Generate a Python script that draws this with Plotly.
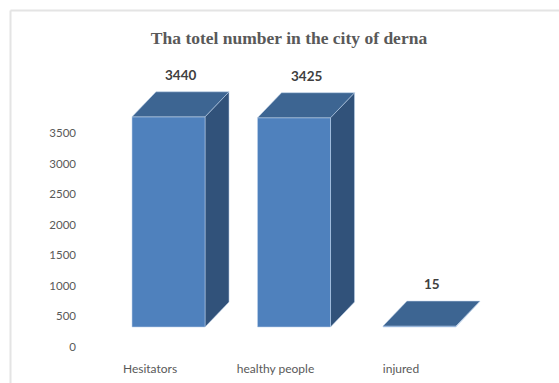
import plotly.graph_objects as go

# Data
categories = ["Hesitators", "healthy people", "injured"]
values = [3440, 3425, 15]
y_ticks = [0, 500, 1000, 1500, 2000, 2500, 3000, 3500]
title_text = "Tha totel number in the city of derna"

# Figure geometry (pixels)
W, H = 559, 383
ML, MR, MT, MB = 80, 0, 0, 28
PW, PH = W - ML - MR, H - MT - MB
X_RANGE = [-0.558, 3.259]
Y_RANGE = [-131, 5679]
px_x = PW / (X_RANGE[1] - X_RANGE[0])   # pixels per category unit
px_y = PH / (Y_RANGE[1] - Y_RANGE[0])   # pixels per value unit

# 3D column look (oblique projection), sizes given in pixels
FLOOR_GAP_X, FLOOR_GAP_Y = 18.5, 20.0   # bar front sits behind the axis plane
HALF_W = 36.5                           # half width of the front face
DEPTH_X, DEPTH_Y = 24.0, 25.0           # depth of the column

gx, gy = FLOOR_GAP_X / px_x, FLOOR_GAP_Y / px_y
hw = HALF_W / px_x
dx, dy = DEPTH_X / px_x, DEPTH_Y / px_y

FRONT = "#4F81BD"
TOP = "#3D6592"
SIDE = "#31527A"
EDGE = "rgba(190,210,235,0.9)"
TEXT = "#595959"

fig = go.Figure()


def face(xs, ys, color):
    fig.add_trace(go.Scatter(
        x=xs + [xs[0]], y=ys + [ys[0]], mode="lines", fill="toself",
        fillcolor=color, line=dict(color=EDGE, width=0.6),
        hoverinfo="skip", showlegend=False))


for i, v in enumerate(values):
    x0, x1 = i + gx - hw, i + gx + hw
    yb, yt = gy, gy + v
    # right side face
    face([x1, x1 + dx, x1 + dx, x1], [yb, yb + dy, yt + dy, yt], SIDE)
    # front face
    face([x0, x1, x1, x0], [yb, yb, yt, yt], FRONT)
    # top face
    face([x0, x1, x1 + dx, x0 + dx], [yt, yt, yt + dy, yt + dy], TOP)
    # value label above the top face
    fig.add_annotation(
        x=i + gx + dx / 2, y=yt + dy, text=f"<b>{v}</b>", showarrow=False,
        xanchor="center", yanchor="bottom", yshift=7,
        font=dict(family="Lato", size=13.5, color="#404040"))

# light frame around the chart area (top and left edges)
def to_paper_x(px):
    return (px - ML) / PW


def to_paper_y(py):
    return (H - MB - py) / PH


fig.add_shape(type="line", xref="paper", yref="paper",
              x0=to_paper_x(10.5), x1=to_paper_x(10.5),
              y0=to_paper_y(10.5), y1=to_paper_y(H + 5),
              line=dict(color="#e4e4e4", width=2))
fig.add_shape(type="line", xref="paper", yref="paper",
              x0=to_paper_x(10.5), x1=to_paper_x(W + 5),
              y0=to_paper_y(10.5), y1=to_paper_y(10.5),
              line=dict(color="#e4e4e4", width=2))

fig.update_layout(
    width=W, height=H,
    margin=dict(l=ML, r=MR, t=MT, b=MB, pad=0),
    paper_bgcolor="white", plot_bgcolor="white",
    showlegend=False,
    title=dict(text=f"<b>{title_text}</b>", x=289 / W, xanchor="center",
               xref="container", y=1 - 38 / H, yref="container",
               yanchor="middle",
               font=dict(family="Liberation Serif", size=17.5, color=TEXT)),
    xaxis=dict(range=X_RANGE, tickmode="array",
               tickvals=list(range(len(categories))), ticktext=categories,
               showgrid=False, zeroline=False, showline=False, ticks="",
               ticklabelstandoff=5,
               tickfont=dict(family="Lato", size=12, color=TEXT),
               fixedrange=True),
    yaxis=dict(range=Y_RANGE, tickmode="array", tickvals=y_ticks,
               ticktext=[str(t) for t in y_ticks],
               showgrid=False, zeroline=False, showline=False, ticks="",
               ticklabelstandoff=3,
               tickfont=dict(family="Lato", size=11.5, color=TEXT),
               fixedrange=True),
)

fig.write_html("out.html")
